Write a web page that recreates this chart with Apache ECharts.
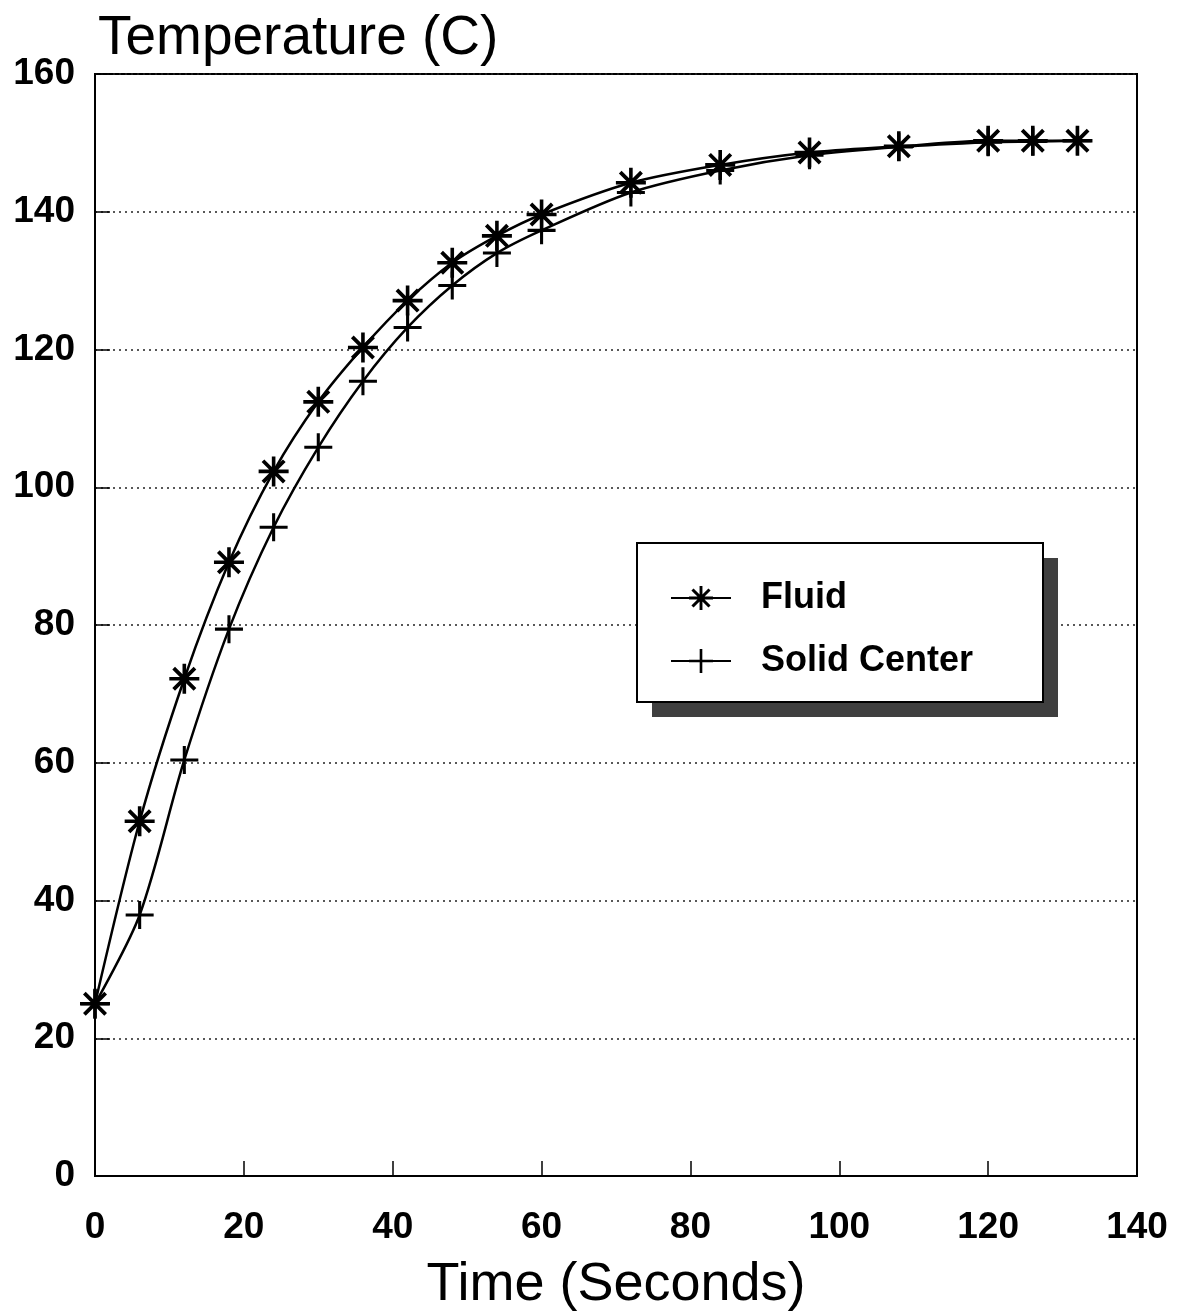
<!DOCTYPE html>
<html>
<head>
<meta charset="utf-8">
<script src="https://cdn.jsdelivr.net/npm/echarts@6/dist/echarts.min.js"></script>
<style>
  html, body { margin: 0; padding: 0; background: #fff; }
  #chart { width: 1181px; height: 1314px; }
</style>
</head>
<body>
<div id="chart"></div>
<script>
// Heating run: temperatures sampled every 6 s
const timeSec = [0, 6, 12, 18, 24, 30, 36, 42, 48, 54, 60, 72, 84, 96, 108, 120, 126, 132];
const fluidTemp = [25.0, 51.5, 72.2, 89.1, 102.3, 112.4, 120.3, 127.1, 132.6, 136.5, 139.6, 144.2, 146.8, 148.6, 149.5, 150.3, 150.3, 150.3];
const solidTimeSec = [0, 6, 12, 18, 24, 30, 36, 42, 48, 54, 60, 72, 84, 96, 108, 120, 126, 132];
const solidCenterTemp = [25.0, 37.9, 60.4, 79.4, 94.2, 105.8, 115.4, 123.2, 129.3, 134.0, 137.3, 142.8, 146.0, 148.2, 149.4, 150.1, 150.2, 150.3];
const seriesNames = ['Fluid', 'Solid Center'];
const xTicks = [0, 20, 40, 60, 80, 100, 120, 140];
const yTicks = [0, 20, 40, 60, 80, 100, 120, 140, 160];

// Marker shapes built from thin bars
const asteriskPath = 'path://M0 44H100V56H0Z M44 0H56V100H44Z M19 10L90 81L81 90L10 19Z M81 10L90 19L19 90L10 81Z';
const plusPath = 'path://M0 44.5H100V55.5H0Z M44.5 0H55.5V100H44.5Z';

const fontFamily = '"Liberation Sans", Arial, Helvetica, sans-serif';

function pairs(xs, ys) { return xs.map((x, i) => [x, ys[i]]); }

// Legend frame with its drop shadow
const legendBox = { x: 637, y: 543, w: 406, h: 159, shadow: 15 };

const chart = echarts.init(document.getElementById('chart'), null, { renderer: 'canvas' });
chart.setOption({
  backgroundColor: '#fff',
  animation: false,
  title: {
    text: 'Temperature (C)',
    left: 93,
    top: 6,
    textStyle: { fontFamily, fontSize: 55, fontWeight: 'normal', color: '#000' }
  },
  grid: {
    left: 95, right: 44, top: 74, bottom: 138,
    containLabel: false,
    outerBoundsMode: 'none',
    show: true, borderColor: '#000', borderWidth: 2, backgroundColor: 'transparent'
  },
  graphic: [
    {
      type: 'rect', z: 10,
      shape: { x: legendBox.x + legendBox.shadow, y: legendBox.y + legendBox.shadow, width: legendBox.w, height: legendBox.h },
      style: { fill: '#3f3f3f' }
    },
    {
      type: 'rect', z: 11,
      shape: { x: legendBox.x, y: legendBox.y, width: legendBox.w, height: legendBox.h },
      style: { fill: '#fff', stroke: '#000', lineWidth: 2 }
    }
  ],
  legend: {
    orient: 'vertical',
    left: 637,
    top: 543,
    z: 20,
    data: seriesNames,
    padding: [37, 20, 28, 33],
    itemWidth: 60,
    itemHeight: 30,
    itemGap: 27,
    textStyle: { fontFamily, fontSize: 36, fontWeight: 'bold', color: '#000', padding: [0, 0, 0, 25] }
  },
  xAxis: {
    type: 'value',
    min: 0, max: 140, interval: 20,
    name: 'Time (Seconds)',
    nameLocation: 'middle',
    nameGap: 82,
    nameTextStyle: { fontFamily, fontSize: 54, color: '#000' },
    axisLine: { show: true, lineStyle: { color: '#000', width: 2 } },
    axisTick: { show: true, inside: true, length: 15, lineStyle: { color: '#000', width: 1.5 } },
    axisLabel: { fontFamily, fontSize: 37, fontWeight: 'bold', color: '#000', margin: 33,
      formatter: v => xTicks.includes(v) ? String(v) : '' },
    splitLine: { show: false }
  },
  yAxis: {
    type: 'value',
    min: 0, max: 160, interval: 20,
    axisLine: { show: true, lineStyle: { color: '#000', width: 2 } },
    axisTick: { show: true, inside: true, length: 15, lineStyle: { color: '#000', width: 1.5 } },
    axisLabel: { fontFamily, fontSize: 37, fontWeight: 'bold', color: '#000', margin: 20,
      formatter: v => yTicks.includes(v) ? String(v) : '' },
    splitLine: { show: true, lineStyle: { color: '#222', width: 1.5, type: [2, 4] } }
  },
  series: [
    {
      name: seriesNames[0],
      type: 'line',
      data: pairs(timeSec, fluidTemp),
      smooth: 0.3,
      symbol: asteriskPath,
      symbolSize: 30,
      clip: false,
      z: 3,
      lineStyle: { color: '#000', width: 2.5 },
      itemStyle: { color: '#000' }
    },
    {
      name: seriesNames[1],
      type: 'line',
      data: pairs(solidTimeSec, solidCenterTemp),
      smooth: 0.3,
      symbol: plusPath,
      symbolSize: 28,
      clip: false,
      z: 2,
      lineStyle: { color: '#000', width: 2.5 },
      itemStyle: { color: '#000' }
    }
  ]
});
</script>
</body>
</html>
